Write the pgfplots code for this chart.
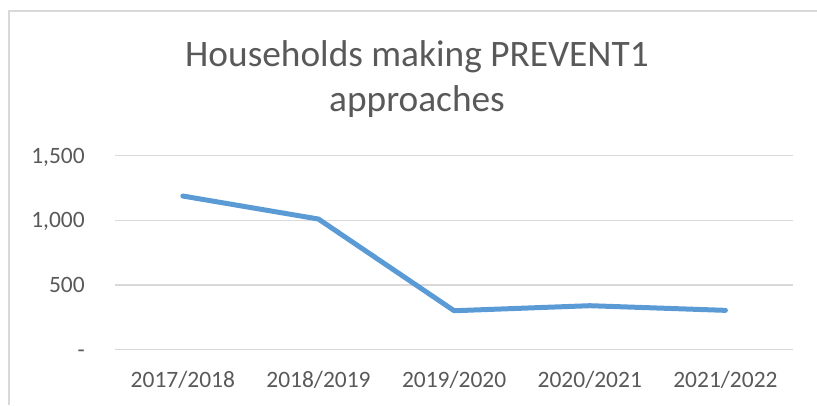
\documentclass[border=0pt]{standalone}
\usepackage{pgfplots}
\pgfplotsset{compat=1.18}
\usepackage{fontspec}
\setmainfont{Carlito}

\definecolor{txtgray}{HTML}{595959}
\definecolor{gridgray}{HTML}{D9D9D9}
\definecolor{lineblue}{HTML}{5B9BD5}

\begin{document}
\begin{tikzpicture}
% page 817 x 405 px at 0.75pt per px
\path[use as bounding box] (0,0) rectangle (612.75pt,303.75pt);
% chart frame (cropped on right and bottom)
\draw[gridgray, line width=0.9pt] (6.75pt,0) -- (6.75pt,295.5pt) -- (612.75pt,295.5pt);

% title
\node[anchor=base, text=txtgray, font=\fontsize{28}{33}\selectfont, inner sep=0pt]
  at (312.75pt,253.7pt) {Households making PREVENT1};
\node[anchor=base, text=txtgray, font=\fontsize{28}{33}\selectfont, inner sep=0pt]
  at (312.75pt,220pt) {approaches};

\begin{axis}[%
at={(86.25pt,41.5pt)},
anchor=south west,
width=508.7pt,
height=145.5pt,
scale only axis,
xmin=-0.5, xmax=4.5,
ymin=0, ymax=1500,
axis line style={draw=none},
major tick length=0pt,
xtick={0,1,2,3,4},
xticklabels={2017/2018,2018/2019,2019/2020,2020/2021,2021/2022},
ytick={0,500,1000,1500},
yticklabels={{-\hspace{7pt}},{500},{1,000},{1,500}},
ymajorgrids,
grid style={gridgray, line width=1pt},
tick label style={text=txtgray, font=\fontsize{17.6}{20}\selectfont, inner sep=0pt},
xticklabel style={anchor=base, yshift=-28.7pt},
yticklabel style={anchor=base east, xshift=-22.5pt, yshift=-5.6pt},
clip=false,
]
\addplot[color=lineblue, line width=3.75pt, line join=round, line cap=round]
coordinates {
(0,1188)
(1,1010)
(2,301)
(3,340)
(4,304)
};
\end{axis}
\end{tikzpicture}
\end{document}
